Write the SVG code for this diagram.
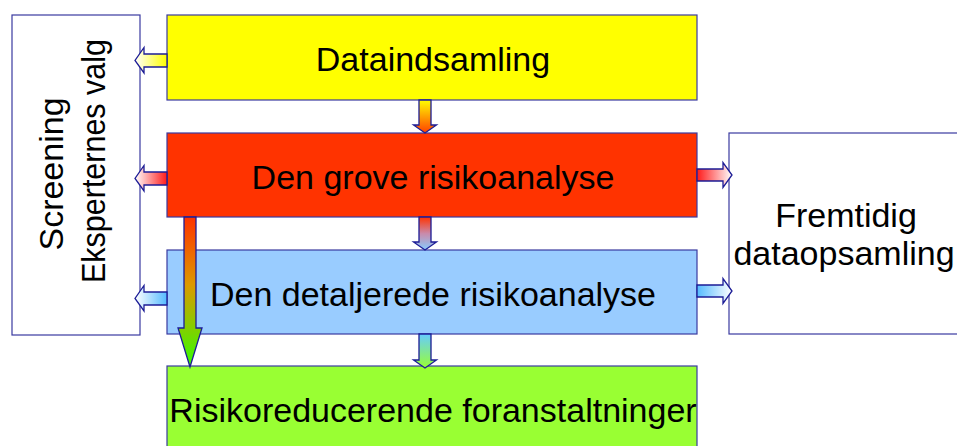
<svg xmlns="http://www.w3.org/2000/svg" width="957" height="446" viewBox="0 0 957 446">
<defs>
<style>
.box{stroke:#3a3aa0;stroke-width:1.2}
.arr{stroke:#1c1c96;stroke-width:1.3;stroke-linejoin:miter}
.t{font-family:"Liberation Sans",Arial,sans-serif;font-size:34px;fill:#000}
</style>
<linearGradient id="gYL" gradientUnits="userSpaceOnUse" x1="167" y1="0" x2="135" y2="0"><stop offset="0" stop-color="#ffff00"/><stop offset="1" stop-color="#ffffff"/></linearGradient>
<linearGradient id="gRL" gradientUnits="userSpaceOnUse" x1="167" y1="0" x2="135" y2="0"><stop offset="0" stop-color="#ff1a1a"/><stop offset="1" stop-color="#ffffff"/></linearGradient>
<linearGradient id="gBL" gradientUnits="userSpaceOnUse" x1="167" y1="0" x2="135" y2="0"><stop offset="0" stop-color="#55bbff"/><stop offset="1" stop-color="#ffffff"/></linearGradient>
<linearGradient id="gRR" gradientUnits="userSpaceOnUse" x1="697" y1="0" x2="732" y2="0"><stop offset="0" stop-color="#ff1a1a"/><stop offset="1" stop-color="#ffffff"/></linearGradient>
<linearGradient id="gBR" gradientUnits="userSpaceOnUse" x1="697" y1="0" x2="732" y2="0"><stop offset="0" stop-color="#55bbff"/><stop offset="1" stop-color="#ffffff"/></linearGradient>
<linearGradient id="gYD" x1="0" y1="0" x2="0" y2="1"><stop offset="0" stop-color="#ffff00"/><stop offset="1" stop-color="#ff4000"/></linearGradient>
<linearGradient id="gRD" x1="0" y1="0" x2="0" y2="1"><stop offset="0" stop-color="#ff3300"/><stop offset="0.5" stop-color="#c98aaa"/><stop offset="1" stop-color="#88ccff"/></linearGradient>
<linearGradient id="gBD" x1="0" y1="0" x2="0" y2="1"><stop offset="0" stop-color="#66ccff"/><stop offset="1" stop-color="#99ff33"/></linearGradient>
<linearGradient id="gLong" x1="0" y1="0" x2="0" y2="1"><stop offset="0" stop-color="#ff3300"/><stop offset="0.45" stop-color="#dd9900"/><stop offset="1" stop-color="#33ff00"/></linearGradient>
</defs>
<rect width="957" height="446" fill="#ffffff"/>

<g id="screening">
<rect class="box" x="12" y="15" width="128" height="320" fill="#ffffff"/>
<text class="t" transform="translate(63,174) rotate(-90)" text-anchor="middle">Screening</text>
<text class="t" transform="translate(105,161) rotate(-90)" text-anchor="middle" textLength="244" lengthAdjust="spacingAndGlyphs">Eksperternes valg</text>
</g>

<g id="fremtidig">
<rect class="box" x="729" y="133" width="240" height="201" fill="#ffffff"/>
<text class="t" x="846" y="227" text-anchor="middle">Fremtidig</text>
<text class="t" x="844" y="265" text-anchor="middle">dataopsamling</text>
</g>

<g id="dataindsamling">
<rect class="box" x="167" y="15" width="530" height="85" fill="#ffff00"/>
<text class="t" x="433" y="71" text-anchor="middle">Dataindsamling</text>
</g>

<g id="grove">
<rect class="box" x="167" y="133" width="530" height="84" fill="#ff3300"/>
<text class="t" x="433" y="189" text-anchor="middle">Den grove risikoanalyse</text>
</g>

<g id="detaljerede">
<rect class="box" x="167" y="250" width="530" height="84" fill="#99ccff"/>
<text class="t" x="433" y="306" text-anchor="middle">Den detaljerede risikoanalyse</text>
</g>

<g id="foranstaltninger">
<rect class="box" x="167" y="366" width="530" height="90" fill="#99ff33"/>
<text class="t" x="433" y="422" text-anchor="middle">Risikoreducerende foranstaltninger</text>
</g>

<g id="connectors">
<path class="arr" fill="url(#gYL)" d="M167,54 L144,54 L144,47.5 L135,60.5 L144,73 L144,67 L167,67 Z"/>
<path class="arr" fill="url(#gRL)" d="M167,172 L144,172 L144,165.5 L135,178.5 L144,191 L144,185 L167,185 Z"/>
<path class="arr" fill="url(#gBL)" d="M167,292 L144,292 L144,285.5 L135,298.5 L144,311 L144,305 L167,305 Z"/>
<path class="arr" fill="url(#gRR)" d="M697,169 L723,169 L723,162.5 L732,175 L723,187.5 L723,181 L697,181 Z"/>
<path class="arr" fill="url(#gBR)" d="M697,285 L723,285 L723,278.5 L732,291 L723,303.5 L723,297 L697,297 Z"/>
<path class="arr" fill="url(#gYD)" d="M419,100 L431,100 L431,125 L436.5,125 L425,133 L413.5,125 L419,125 Z"/>
<path class="arr" fill="url(#gRD)" d="M419,217 L431,217 L431,242 L436.5,242 L425,250 L413.5,242 L419,242 Z"/>
<path class="arr" fill="url(#gBD)" d="M419,334 L431,334 L431,360 L436.5,360 L425,368 L413.5,360 L419,360 Z"/>
<path class="arr" fill="url(#gLong)" d="M184,217 L196,217 L196,328 L202,328 L190,367 L178,328 L184,328 Z"/>
</g>
</svg>
